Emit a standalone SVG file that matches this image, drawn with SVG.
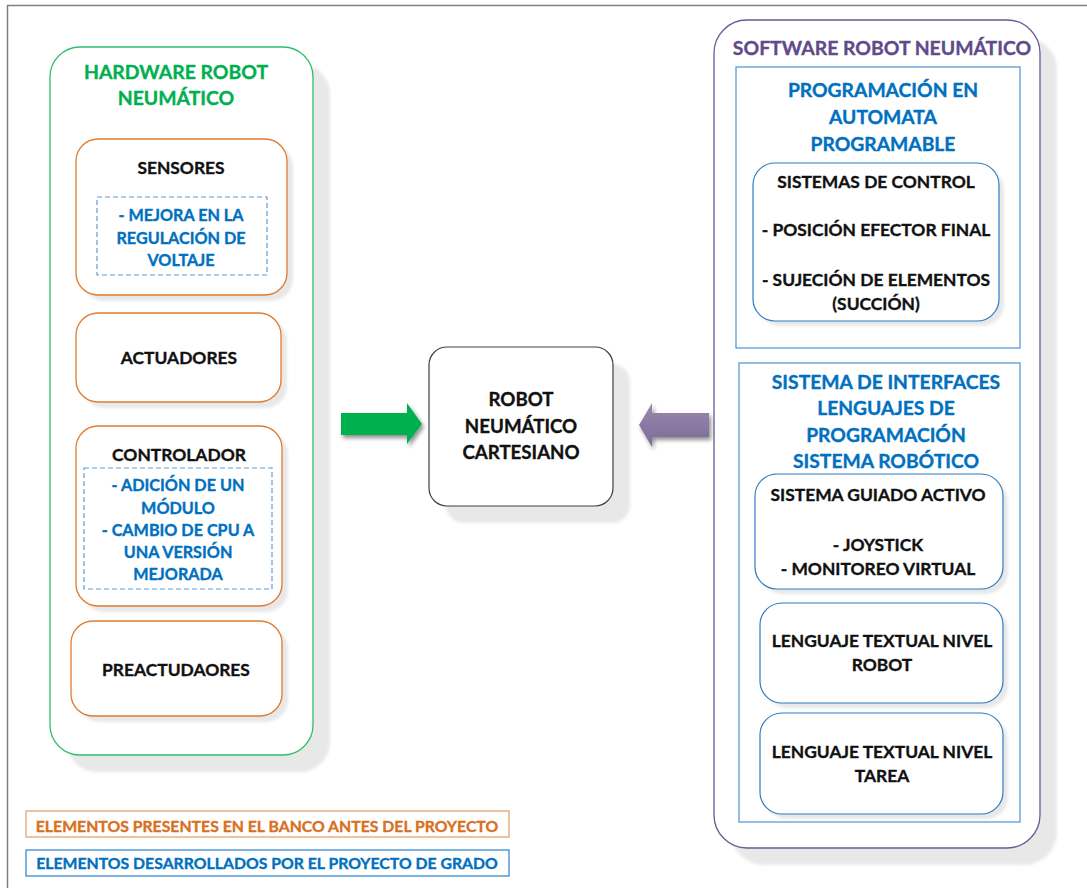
<svg xmlns="http://www.w3.org/2000/svg" width="1087" height="888" viewBox="0 0 1087 888">
  <defs>
    <filter id="soft" x="-10%" y="-10%" width="120%" height="120%">
      <feGaussianBlur stdDeviation="1.5"/>
    </filter>
    <filter id="arrowShadow" x="-20%" y="-30%" width="140%" height="160%">
      <feGaussianBlur in="SourceAlpha" stdDeviation="2"/>
      <feOffset dx="2" dy="3"/>
      <feComponentTransfer><feFuncA type="linear" slope="0.45"/></feComponentTransfer>
      <feMerge><feMergeNode/><feMergeNode in="SourceGraphic"/></feMerge>
    </filter>
    <linearGradient id="purpleFill" x1="0" y1="0" x2="0" y2="1">
      <stop offset="0" stop-color="#9a8bb0"/>
      <stop offset="0.5" stop-color="#8a79a2"/>
      <stop offset="1" stop-color="#7c6b96"/>
    </linearGradient>
  </defs>
  <style>
    text { font-family: Lato, "Liberation Sans", sans-serif; font-weight: bold; text-anchor: middle; dominant-baseline: central; stroke-width: 0.35px; }
    .shadow { fill: #e8e8e8; filter: url(#soft); }
    .box { fill: #ffffff; }
    .orange { stroke: #e07b2e; stroke-width: 1.3; }
    .blue { stroke: #2e7cc4; stroke-width: 1.2; }
    .frameBlue { fill: #ffffff; stroke: #5b9bd5; stroke-width: 1.3; }
    .dash { fill: none; stroke: #5b9bd5; stroke-width: 1.2; stroke-dasharray: 5 3; }
    .black { fill: #111111; stroke: #111111; font-size: 17.4px; }
    .blueText { fill: #0070c0; stroke: #0070c0; font-size: 16.2px; }
    .headBlue { fill: #0070c0; stroke: #0070c0; font-size: 19.3px; }
    .green { fill: #00b050; stroke: #00b050; font-size: 19.4px; }
    .purple { fill: #5f4b8b; stroke: #5f4b8b; font-size: 19.4px; }
    .robot { fill: #111111; stroke: #111111; font-size: 18.7px; }
    .legend { font-size: 15.8px; }
  </style>

  <rect width="1087" height="888" fill="#ffffff"/>
  <!-- page frame -->
  <path d="M7.5 888 V5.5 H1087" fill="none" stroke="#7f7f7f" stroke-width="1.5"/>

  <!-- hardware column -->
  <g id="hardware">
    <rect class="shadow" x="67" y="64" width="263" height="708" rx="30"/>
    <rect class="box" x="50" y="47" width="263" height="708" rx="30" stroke="#2fbf6a" stroke-width="1.3"/>
    <text class="green" x="176" y="71">HARDWARE ROBOT</text>
    <text class="green" x="176" y="97">NEUMÁTICO</text>
  </g>

  <g id="sensores">
    <rect class="shadow" x="82" y="145" width="211" height="156" rx="22"/>
    <rect class="box orange" x="76" y="139" width="211" height="156" rx="22"/>
    <text class="black" x="181" y="167">SENSORES</text>
    <rect class="dash" x="97" y="197" width="170" height="78"/>
    <text class="blueText" x="181" y="214">- MEJORA EN LA</text>
    <text class="blueText" x="181" y="237">REGULACIÓN DE</text>
    <text class="blueText" x="181" y="259">VOLTAJE</text>
  </g>

  <g id="actuadores">
    <rect class="shadow" x="82" y="319" width="205" height="89" rx="22"/>
    <rect class="box orange" x="76" y="313" width="205" height="89" rx="22"/>
    <text class="black" x="179" y="357">ACTUADORES</text>
  </g>

  <g id="controlador">
    <rect class="shadow" x="82" y="432" width="206" height="180" rx="22"/>
    <rect class="box orange" x="76" y="426" width="206" height="180" rx="22"/>
    <text class="black" x="179" y="454">CONTROLADOR</text>
    <rect class="dash" x="84" y="468" width="188" height="121"/>
    <text class="blueText" x="178" y="484">- ADICIÓN DE UN</text>
    <text class="blueText" x="178" y="507">MÓDULO</text>
    <text class="blueText" x="178" y="529">- CAMBIO DE CPU A</text>
    <text class="blueText" x="178" y="551">UNA VERSIÓN</text>
    <text class="blueText" x="178" y="573">MEJORADA</text>
  </g>

  <g id="preactuadores">
    <rect class="shadow" x="77" y="627" width="211" height="95" rx="22"/>
    <rect class="box orange" x="71" y="621" width="211" height="95" rx="22"/>
    <text class="black" x="176" y="669">PREACTUDAORES</text>
  </g>

  <!-- central robot -->
  <g id="robot">
    <rect class="shadow" x="446" y="364" width="184" height="159" rx="18"/>
    <rect class="box" x="429" y="347" width="184" height="159" rx="18" stroke="#404040" stroke-width="1.2"/>
    <text class="robot" x="521" y="399">ROBOT</text>
    <text class="robot" x="521" y="426">NEUMÁTICO</text>
    <text class="robot" x="521" y="452">CARTESIANO</text>
  </g>

  <!-- software column -->
  <g id="software">
    <rect class="shadow" x="731" y="37" width="326" height="828" rx="33"/>
    <rect class="box" x="714" y="20" width="326" height="828" rx="33" stroke="#6a5a96" stroke-width="1.3"/>
    <text class="purple" x="882" y="47">SOFTWARE ROBOT NEUMÁTICO</text>
  </g>

  <g id="programacion">
    <rect class="frameBlue" x="736" y="67" width="284" height="281"/>
    <text class="headBlue" x="883" y="89">PROGRAMACIÓN EN</text>
    <text class="headBlue" x="883" y="116">AUTOMATA</text>
    <text class="headBlue" x="883" y="143">PROGRAMABLE</text>
  </g>

  <g id="sistemas-control">
    <rect class="shadow" x="758" y="168" width="246" height="158" rx="22"/>
    <rect class="box blue" x="753" y="163" width="246" height="158" rx="22"/>
    <text class="black" x="876" y="181">SISTEMAS DE CONTROL</text>
    <text class="black" x="876" y="229">- POSICIÓN EFECTOR FINAL</text>
    <text class="black" x="876" y="279">- SUJECIÓN DE ELEMENTOS</text>
    <text class="black" x="876" y="303">(SUCCIÓN)</text>
  </g>

  <g id="interfaces">
    <rect class="frameBlue" x="739" y="363" width="281" height="459"/>
    <text class="headBlue" x="886" y="381">SISTEMA DE INTERFACES</text>
    <text class="headBlue" x="886" y="407">LENGUAJES DE</text>
    <text class="headBlue" x="886" y="434">PROGRAMACIÓN</text>
    <text class="headBlue" x="886" y="460">SISTEMA ROBÓTICO</text>
  </g>

  <g id="guiado">
    <rect class="shadow" x="760" y="479" width="248" height="115" rx="22"/>
    <rect class="box blue" x="755" y="474" width="248" height="115" rx="22"/>
    <text class="black" x="878" y="494">SISTEMA GUIADO ACTIVO</text>
    <text class="black" x="878" y="544">- JOYSTICK</text>
    <text class="black" x="878" y="568">- MONITOREO VIRTUAL</text>
  </g>

  <g id="nivel-robot">
    <rect class="shadow" x="765" y="608" width="243" height="100" rx="22"/>
    <rect class="box blue" x="760" y="603" width="243" height="100" rx="22"/>
    <text class="black" x="882" y="640">LENGUAJE TEXTUAL NIVEL</text>
    <text class="black" x="882" y="664">ROBOT</text>
  </g>

  <g id="nivel-tarea">
    <rect class="shadow" x="765" y="718" width="243" height="101" rx="22"/>
    <rect class="box blue" x="760" y="713" width="243" height="101" rx="22"/>
    <text class="black" x="882" y="751">LENGUAJE TEXTUAL NIVEL</text>
    <text class="black" x="882" y="775">TAREA</text>
  </g>

  <!-- block arrows into the robot -->
  <g id="connectors">
    <polygon points="341,413 407,413 407,403 422,424 407,444 407,435 341,435" fill="#00b050" filter="url(#arrowShadow)"/>
    <polygon points="709,413 652,413 652,403 639,425 652,447 652,437 709,437" fill="url(#purpleFill)" filter="url(#arrowShadow)"/>
  </g>

  <!-- legend -->
  <g id="legend">
    <rect x="26" y="811" width="483" height="26" fill="#ffffff" stroke="#e8a36e" stroke-width="1.3"/>
    <text class="legend" x="267" y="825" fill="#d8701f" stroke="#d8701f">ELEMENTOS PRESENTES EN EL BANCO ANTES DEL PROYECTO</text>
    <rect x="26" y="850" width="483" height="26" fill="#ffffff" stroke="#3a8ad0" stroke-width="1.3"/>
    <text class="legend" x="267" y="862" fill="#0070c0" stroke="#0070c0">ELEMENTOS DESARROLLADOS POR EL PROYECTO DE GRADO</text>
  </g>
</svg>
